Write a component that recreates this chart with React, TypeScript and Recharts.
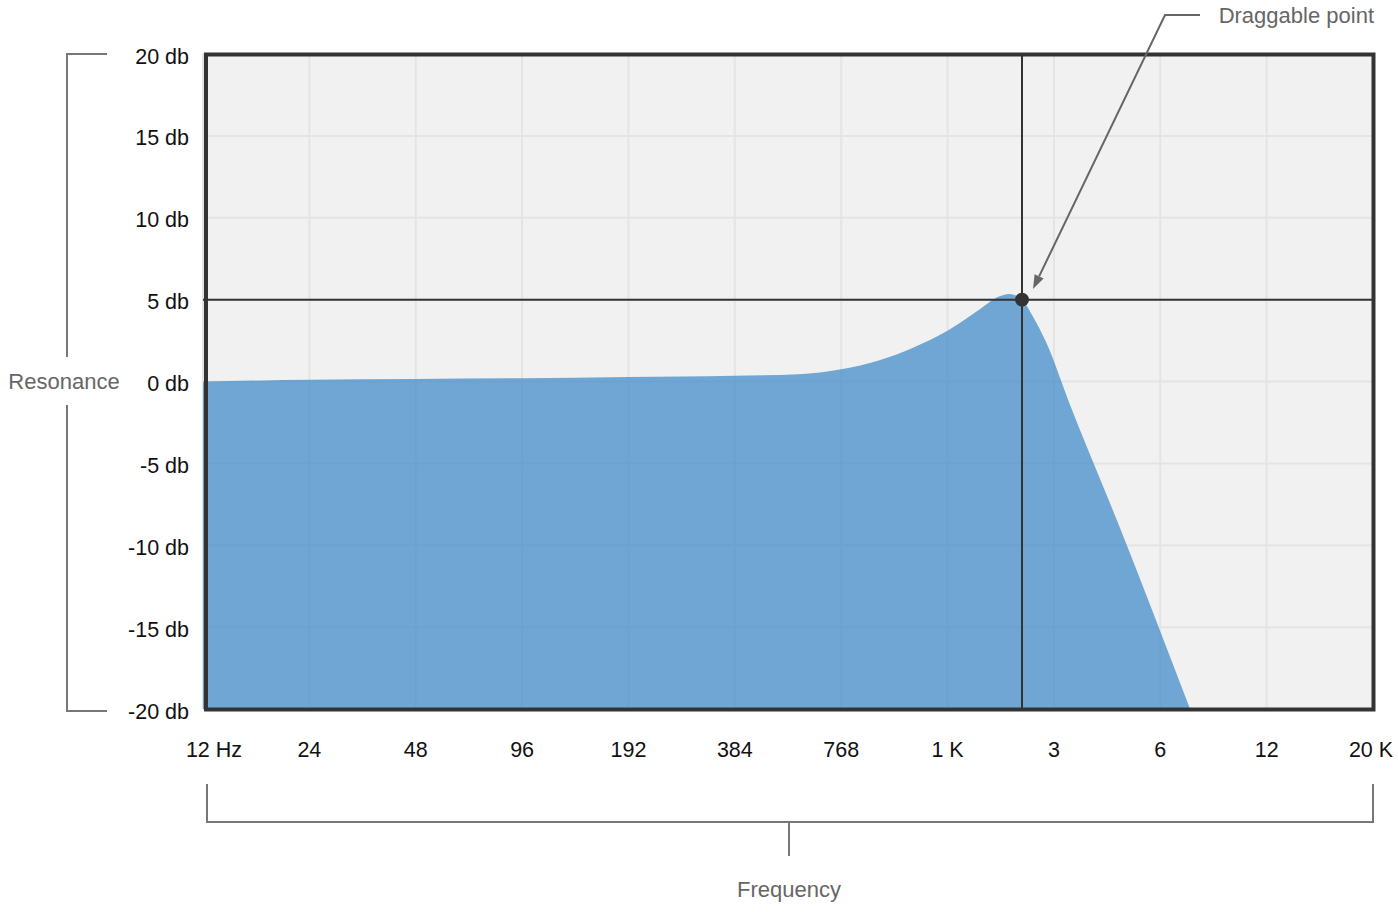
import React from 'react';
import {
  AreaChart,
  Area,
  XAxis,
  YAxis,
  CartesianGrid,
  ReferenceLine,
  ReferenceDot,
} from 'recharts';

// x positions are tick indexes on the octave axis (0 = 12 Hz ... 11 = 20 K)
const freqLabels = ['12 Hz', '24', '48', '96', '192', '384', '768', '1 K', '3', '6', '12', '20 K'];
const freqTicks = [0, 1, 2, 3, 4, 5, 6, 7, 8, 9, 10, 11];
const dbTicks = [-20, -15, -10, -5, 0, 5, 10, 15, 20];

const curveX = [0, 1, 2, 3, 4, 5, 5.6, 6, 6.36, 6.67, 7, 7.3, 7.49, 7.58, 7.7, 7.8, 7.93, 8.15, 8.6, 9.28];
const curveDb = [0, 0.1, 0.15, 0.2, 0.28, 0.35, 0.45, 0.75, 1.3, 2.05, 3.1, 4.4, 5.2, 5.35, 5.0, 4.0, 2.35, -1.4, -8.6, -20];

const handleX = 7.7;
const handleDb = 5;

const response = curveX.map((x, i) => ({ x, db: curveDb[i] }));

const FONT = '"Liberation Sans", Arial, Helvetica, sans-serif';

const FreqTick = ({ x, y, payload }: any) => (
  <text
    x={x + (payload.value === 0 ? 11 : payload.value === 11 ? -2 : 0)}
    y={y}
    dy="0.71em"
    textAnchor="middle"
    fill="#111"
    fontSize={21.5}
    fontFamily={FONT}
  >
    {freqLabels[payload.value]}
  </text>
);

const DbTick = ({ x, y, payload }: any) => (
  <text x={x} y={y + 2} dy="0.35em" textAnchor="end" fill="#111" fontSize={21.5} fontFamily={FONT}>
    {`${payload.value} db`}
  </text>
);

export default function App() {
  return (
    <div style={{ position: 'absolute', left: 0, top: 0, width: 1398, height: 912, background: '#fff' }}>
      <AreaChart
        width={1398}
        height={912}
        data={response}
        margin={{ top: 54, right: 25, bottom: 143, left: 10 }}
      >
        <CartesianGrid fill="#f1f1f1" stroke="#e4e4e4" strokeWidth={2} />
        <XAxis
          type="number"
          dataKey="x"
          domain={[0, 11]}
          ticks={freqTicks}
          tick={<FreqTick />}
          tickLine={false}
          axisLine={false}
          tickSize={0}
          tickMargin={33}
          height={60}
          interval={0}
        />
        <YAxis
          type="number"
          domain={[-20, 20]}
          ticks={dbTicks}
          tick={<DbTick />}
          tickLine={false}
          axisLine={false}
          tickSize={0}
          tickMargin={14}
          width={193}
          interval={0}
        />
        <Area
          type="monotone"
          dataKey="db"
          baseValue={-20}
          stroke="none"
          fill="#448cc8"
          fillOpacity={0.75}
          isAnimationActive={false}
        />
        <ReferenceLine x={handleX} stroke="#333" strokeWidth={2} />
        <ReferenceLine y={handleDb} stroke="#333" strokeWidth={2} />
        <ReferenceDot x={handleX} y={handleDb} r={7} fill="#333" stroke="none" />
      </AreaChart>
      <svg
        width={1398}
        height={912}
        style={{ position: 'absolute', left: 0, top: 0, pointerEvents: 'none' }}
        fontFamily={FONT}
      >
        <rect x={206} y={54.5} width={1167.5} height={655} fill="none" stroke="#333" strokeWidth={4} />
        <path d="M107,54 H67 V357 M67,405 V711 H107" fill="none" stroke="#777" strokeWidth={2} />
        <text x={64} y={381} dy="0.35em" textAnchor="middle" fill="#666" fontSize={22}>
          Resonance
        </text>
        <path d="M207,784 V822 H1373 V784 M789,822 V856" fill="none" stroke="#777" strokeWidth={2} />
        <text x={789} y={889} dy="0.35em" textAnchor="middle" fill="#666" fontSize={22}>
          Frequency
        </text>
        <path d="M1200,15 H1165 L1039.1,276.4" fill="none" stroke="#666" strokeWidth={2} />
        <polygon points="1033,289 1043.6,278.6 1034.6,274.2" fill="#666" />
        <text x={1374} y={15} dy="0.35em" textAnchor="end" fill="#666" fontSize={22}>
          Draggable point
        </text>
      </svg>
    </div>
  );
}
